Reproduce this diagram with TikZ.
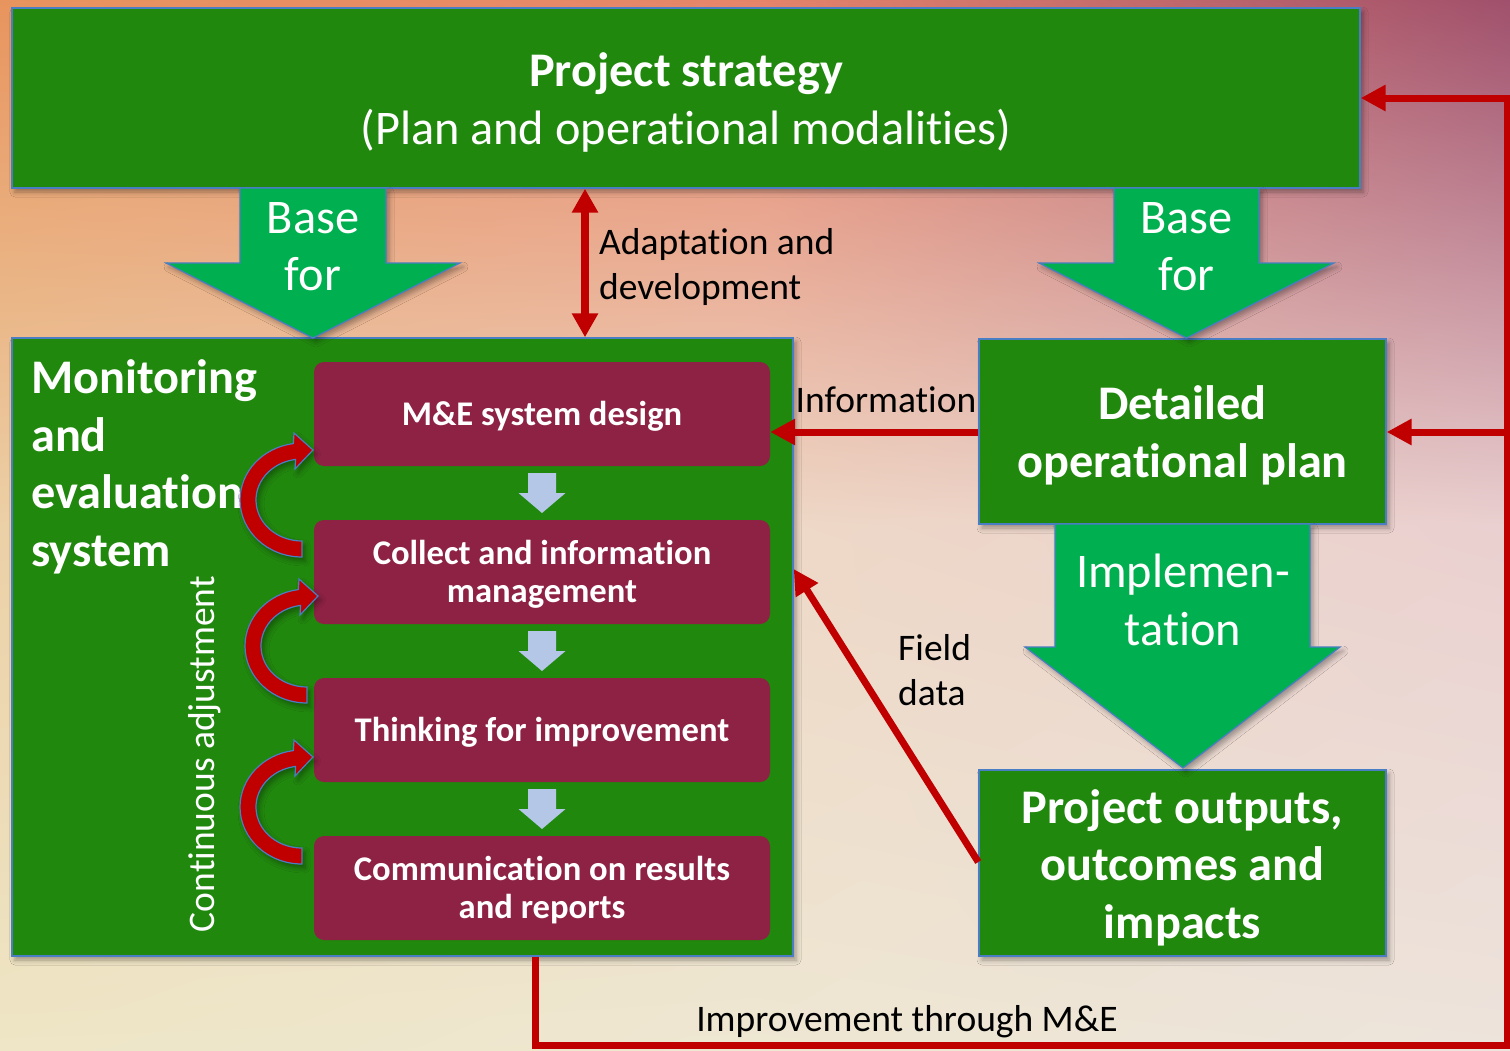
\documentclass[tikz,border=0pt]{standalone}
\usepackage{fontspec}
\setmainfont{Carlito}[Ligatures=NoCommon]
\usetikzlibrary{arrows.meta,shadows.blur,shadings,calc}

\definecolor{bgA}{RGB}{232,148,94}
\definecolor{bgB}{RGB}{230,132,106}
\definecolor{bgC}{RGB}{160,80,108}
\definecolor{bgD}{RGB}{236,208,166}
\definecolor{bgE}{RGB}{238,216,198}
\definecolor{bgF}{RGB}{234,208,208}
\definecolor{bgG}{RGB}{238,230,198}
\definecolor{bgH}{RGB}{238,231,210}
\definecolor{bgI}{RGB}{237,228,220}
\definecolor{boxgreen}{RGB}{33,136,14}
\definecolor{arrowgreen}{RGB}{0,176,80}
\definecolor{stepred}{RGB}{142,34,68}
\definecolor{linkred}{RGB}{192,0,0}
\definecolor{edgeblue}{RGB}{74,126,196}
\definecolor{paleblue}{RGB}{180,199,231}

\newcommand\fsBig{\fontsize{48.3}{57.5}\selectfont}
\newcommand\fsStep{\fontsize{34.6}{38}\selectfont}
\newcommand\fsLbl{\fontsize{37.5}{45}\selectfont}

\begin{document}
\begin{tikzpicture}[x=1pt,y=-1pt,
  softshadow/.style={blur shadow={shadow xshift=3pt, shadow yshift=-4pt,
      shadow blur radius=5pt, shadow opacity=35}},
  greenbox/.style={draw=edgeblue, line width=1.4pt, fill=boxgreen,
      inner sep=0pt, softshadow},
  boxtext/.style={text=white, align=center, inner sep=0pt, font=\fsBig},
  blockarrow/.style={draw=edgeblue, line width=1.2pt, fill=arrowgreen, softshadow},
  stepbox/.style={fill=stepred, rounded corners=10pt, inner sep=0pt,
      minimum width=456pt, minimum height=104pt},
  steptext/.style={text=white, align=center, inner sep=0pt, yshift=-2pt,
      font=\fsStep\bfseries},
  lbl/.style={text=black, inner sep=0pt, font=\fsLbl},
  redline/.style={draw=linkred, line width=7pt},
  redarrow/.style={redline, -{Triangle[length=25pt,width=25pt]}},
  cyclearrow/.pic={
    \filldraw[fill=linkred, draw=edgeblue, line width=1.2pt, softshadow]
      (0,57) arc[start angle=90, end angle=262, x radius=62, y radius=57]
      -- (-8,-67) -- (11,-50) -- (-7,-31) -- (-6.4,-40.6)
      arc[start angle=262, end angle=90, x radius=46, y radius=41] -- cycle;
  }]
\useasboundingbox (0,0) rectangle (1510,1050);

% background wash, four bilinear patches
\shade[upper left=bgA, upper right=bgB, lower left=bgD, lower right=bgE]
  (0,0) rectangle (755.5,525.5);
\shade[upper left=bgB, upper right=bgC, lower left=bgE, lower right=bgF]
  (755,0) rectangle (1510,525.5);
\shade[upper left=bgD, upper right=bgE, lower left=bgG, lower right=bgH]
  (0,525) rectangle (755.5,1050);
\shade[upper left=bgE, upper right=bgF, lower left=bgH, lower right=bgI]
  (755,525) rectangle (1510,1050);

% main boxes
\node[greenbox, minimum width=1348pt, minimum height=180pt] (strategy) at (686,98) {};
\node[boxtext] (strategytext) at ($(strategy.center)+(0,4.5)$)
  {\textbf{Project strategy}\\(Plan and operational modalities)};
\node[greenbox, minimum width=781pt, minimum height=618pt] (me) at (402.5,647) {};
\node[greenbox, minimum width=407pt, minimum height=185pt] (detailed) at (1182.5,431.5) {};
\node[boxtext, font=\fsBig\bfseries] (detailedtext) at ($(detailed.center)+(0,4)$)
  {Detailed\\operational plan};
\node[greenbox, minimum width=407pt, minimum height=186pt] (outputs) at (1182.5,863) {};
\node[boxtext, font=\fsBig\bfseries] (outputstext) at ($(outputs.center)+(0,4.5)$)
  {Project outputs,\\outcomes and\\impacts};

% wide green block arrows
\filldraw[blockarrow] (240,188) -- (386,188) -- (386,263) -- (460,263)
  -- (313,338) -- (166,263) -- (240,263) -- cycle;
\filldraw[blockarrow] (1114,188) -- (1259,188) -- (1259,263) -- (1334,263)
  -- (1186.5,338) -- (1039,263) -- (1114,263) -- cycle;
\filldraw[blockarrow] (1055,524) -- (1310,524) -- (1310,647) -- (1340,647)
  -- (1183,768) -- (1025,647) -- (1055,647) -- cycle;
\node[boxtext] (baseleft) at (313,246.5) {Base\\for};
\node[boxtext] (baseright) at (1186.5,246.5) {Base\\for};
\node[boxtext] (implement) at (1183,600) {Implemen-\\tation};

% monitoring and evaluation system
\node[text=white, align=left, inner sep=0pt, font=\fsBig\bfseries, anchor=west]
  (metitle) at (31,467) {Monitoring\\and\\evaluation\\system};
\node[text=white, inner sep=0pt, font=\fsLbl, rotate=90] (adjust) at (205,754)
  {Continuous adjustment};

\node[stepbox, label={[steptext]center:M\&E system design}] (design) at (542,414) {};
\node[stepbox, label={[steptext]center:Collect and information\\management}]
  (collect) at (542,572) {};
\node[stepbox, label={[steptext]center:Thinking for improvement}] (think) at (542,730) {};
\node[stepbox, label={[steptext]center:Communication on results\\and reports}]
  (comm) at (542,888) {};

\foreach \a/\b in {design/collect, collect/think, think/comm}{
  \coordinate (mid) at ($(\a.south)!0.5!(\b.north)$);
  \fill[paleblue] ($(mid)+(-14,-20)$) -- ($(mid)+(14,-20)$) -- ($(mid)+(14,0)$)
    -- ($(mid)+(23.5,0)$) -- ($(mid)+(0,20)$) -- ($(mid)+(-23.5,0)$)
    -- ($(mid)+(-14,0)$) -- cycle;
}

\pic at (302,500) {cyclearrow};
\pic at (307,646) {cyclearrow};
\pic at (302,807) {cyclearrow};

% links
\draw[redline, line width=8pt, {Triangle[length=24pt,width=25pt]}-{Triangle[length=24pt,width=25pt]}]
  (strategy.south -| 585,0) -- (me.north -| 585,0);
\node[lbl, align=left, anchor=west] (adapt) at (599,266.5)
  {Adaptation and\\development};

\draw[redarrow] (detailed.west |- 0,432) -- (design.east |- 0,432);
\node[lbl] (info) at (886,400) {Information};

\draw[redarrow] (outputs.west |- 0,862) -- (me.east |- 0,569);
\node[lbl, align=left, anchor=west] (field) at (898,670) {Field\\data};

\coordinate (loopSW) at (535,1045);
\coordinate (loopSE) at (1507,1045);
\coordinate (loopNE) at (1507,98);
\coordinate (loopMid) at (1507,432);
\draw[redarrow, line join=miter] (me.south -| loopSW) -- (loopSW) -- (loopSE)
  -- (loopNE) -- (strategy.east |- loopNE);
\draw[redarrow] (loopMid) -- (detailed.east |- loopMid);
\node[lbl] (improve) at (907,1022) {Improvement through M\&E};

\end{tikzpicture}
\end{document}
